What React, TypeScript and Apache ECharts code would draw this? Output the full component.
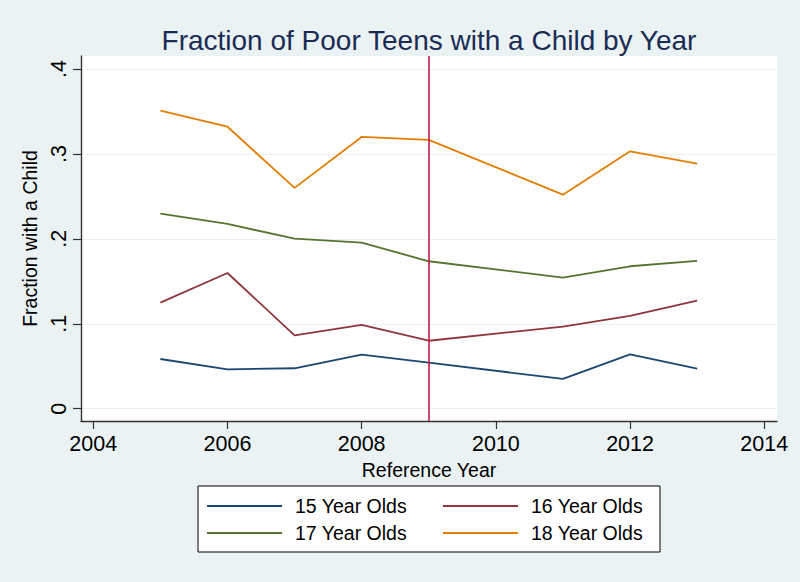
import React, { useEffect, useRef } from "react";
import * as echarts from "echarts";

const years = [2005, 2006, 2007, 2008, 2009, 2011, 2012, 2013];
const age15 = [0.0585, 0.0464, 0.0476, 0.0636, 0.0542, 0.035, 0.064, 0.0471];
const age16 = [0.1249, 0.1598, 0.0864, 0.0986, 0.08, 0.0966, 0.1092, 0.1272];
const age17 = [0.2297, 0.2175, 0.2002, 0.1955, 0.1736, 0.1543, 0.1677, 0.174];
const age18 = [0.351, 0.332, 0.26, 0.32, 0.3165, 0.252, 0.303, 0.2886];
const seriesNames = ["15 Year Olds", "16 Year Olds", "17 Year Olds", "18 Year Olds"];
const xTicks = [2004, 2006, 2008, 2010, 2012, 2014];
const yTicks = [0, 0.1, 0.2, 0.3, 0.4];
const referenceYear = 2009;

const colors = ["#1a476f", "#90353b", "#55752f", "#e37e00"];
const FONT = "'Liberation Sans', Arial, Helvetica, sans-serif";

export default function App() {
  const ref = useRef<HTMLDivElement>(null);
  useEffect(() => {
    const chart = echarts.init(ref.current!, undefined, { renderer: "svg" });
    const allData = [age15, age16, age17, age18];
    const series: any[] = allData.map((vals, i) => ({
      name: seriesNames[i],
      type: "line",
      data: years.map((y, j) => [y, vals[j]]),
      symbol: "none",
      showSymbol: false,
      lineStyle: { color: colors[i], width: 1.8 },
      itemStyle: { color: colors[i] },
      z: 3,
    }));
    series[3].markLine = {
      silent: true,
      symbol: "none",
      label: { show: false },
      lineStyle: { color: "#c8174a", width: 1.6, type: "solid" },
      data: [{ xAxis: referenceYear }],
      z: 5,
    };
    const yFmt = (v: number) => {
      if (Math.abs(v) < 1e-9) return "0";
      return String(+v.toFixed(1)).replace(/^0/, "");
    };
    const legendCommon = {
      orient: "vertical",
      top: 496,
      icon: "rect",
      itemWidth: 75,
      itemHeight: 1.8,
      itemGap: 7,
      padding: 0,
      textStyle: { fontFamily: FONT, fontSize: 19.5, color: "#000", lineHeight: 18, padding: [0, 0, 0, 8] },
    };
    chart.setOption({
      animation: false,
      backgroundColor: "#eaf2f3",
      textStyle: { fontFamily: FONT },
      title: {
        text: "Fraction of Poor Teens with a Child by Year",
        left: 424,
        top: 21,
        textAlign: "center",
        textStyle: { fontFamily: FONT, fontSize: 28, fontWeight: "normal", color: "#1a2c54" },
      },
      grid: {
        left: 81,
        right: 23,
        top: 56,
        bottom: 161,
        show: true,
        backgroundColor: "#ffffff",
        borderWidth: 0,
        containLabel: false,
      },
      xAxis: {
        type: "value",
        min: 2003.817,
        max: 2014.19,
        name: "Reference Year",
        nameLocation: "middle",
        nameGap: 29,
        nameTextStyle: { fontFamily: FONT, fontSize: 19.5, color: "#000" },
        axisLine: { show: true, onZero: false, lineStyle: { color: "#333", width: 1.4 } },
        axisTick: { show: true, length: 8, customValues: xTicks, lineStyle: { color: "#333", width: 1.2 } },
        axisLabel: {
          customValues: xTicks,
          fontFamily: FONT,
          fontSize: 21.5,
          color: "#000",
          margin: 12,
          formatter: (v: number) => String(Math.round(v)),
        },
        splitLine: { show: false },
      },
      yAxis: {
        type: "value",
        min: -0.0145,
        max: 0.4153,
        name: "Fraction with a Child",
        nameLocation: "middle",
        nameGap: 36,
        nameRotate: 90,
        nameTextStyle: { fontFamily: FONT, fontSize: 19.5, color: "#000" },
        axisLine: { show: true, onZero: false, lineStyle: { color: "#333", width: 1.4 } },
        axisTick: { show: true, length: 8, customValues: yTicks, lineStyle: { color: "#333", width: 1.2 } },
        axisLabel: {
          customValues: yTicks,
          rotate: 90,
          fontFamily: FONT,
          fontSize: 21.5,
          color: "#000",
          margin: 11,
          formatter: yFmt,
        },
        splitLine: { show: true, lineStyle: { color: "#eaf2f3", width: 1.2 } },
      },
      legend: [
        { ...legendCommon, data: [seriesNames[0], seriesNames[2]], left: 207 },
        { ...legendCommon, data: [seriesNames[1], seriesNames[3]], left: 443 },
      ],
      graphic: [
        {
          type: "rect",
          shape: { x: 198, y: 486, width: 462, height: 66 },
          style: { fill: "#ffffff", stroke: "#000000", lineWidth: 1 },
          z: 0,
          silent: true,
        },
      ],
      series,
    });
    return () => chart.dispose();
  }, []);
  return <div ref={ref} style={{ position: "absolute", left: 0, top: 0, width: 800, height: 582 }} />;
}
